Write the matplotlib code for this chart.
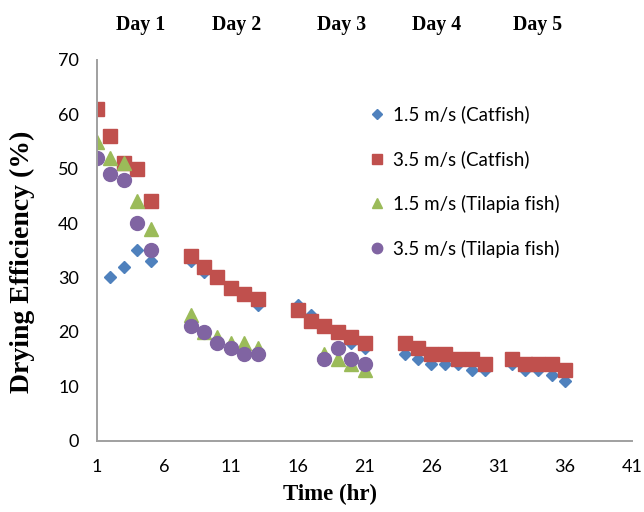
import numpy as np
import matplotlib
matplotlib.use("Agg")
import matplotlib.pyplot as plt

# drying efficiency readings (%), per hour of drying, grouped by day
x_cat15 = [2, 3, 4, 5, 8, 9, 10, 11, 12, 13, 16, 17, 18, 19, 20, 21,
           24, 25, 26, 27, 28, 29, 30, 32, 33, 34, 35, 36]
y_cat15 = [30, 32, 35, 33, 33, 31, 30, 28, 27, 25, 25, 23, 21, 20, 18, 17,
           16, 15, 14, 14, 14, 13, 13, 14, 13, 13, 12, 11]

x_cat35 = [1, 2, 3, 4, 5, 8, 9, 10, 11, 12, 13, 16, 17, 18, 19, 20, 21,
           24, 25, 26, 27, 28, 29, 30, 32, 33, 34, 35, 36]
y_cat35 = [61, 56, 51, 50, 44, 34, 32, 30, 28, 27, 26, 24, 22, 21, 20, 19, 18,
           18, 17, 16, 16, 15, 15, 14, 15, 14, 14, 14, 13]

x_til15 = [1, 2, 3, 4, 5, 8, 9, 10, 11, 12, 13, 18, 19, 20, 21]
y_til15 = [55, 52, 51, 44, 39, 23, 20, 19, 18, 18, 17, 16, 15, 14, 13]

x_til35 = [1, 2, 3, 4, 5, 8, 9, 10, 11, 12, 13, 18, 19, 20, 21]
y_til35 = [52, 49, 48, 40, 35, 21, 20, 18, 17, 16, 16, 15, 17, 15, 14]

labels = ["1.5 m/s (Catfish)", "3.5 m/s (Catfish)",
          "1.5 m/s (Tilapia fish)", "3.5 m/s (Tilapia fish)"]
days = ["Day 1", "Day 2", "Day 3", "Day 4", "Day 5"]
day_x = [141, 237, 342, 437, 538]  # pixel centres across the top

xticks = [1, 6, 11, 16, 21, 26, 31, 36, 41]
yticks = [0, 10, 20, 30, 40, 50, 60, 70]

W, H = 644, 512
fig = plt.figure(figsize=(W / 100, H / 100), dpi=100)
ax = fig.add_axes([97 / W, 1 - 440.5 / H, 535 / W, 380.5 / H])

ax.plot(x_cat15, y_cat15, ls="none", marker="D", ms=6.4, color="#4F81BD",
        mec="#4F81BD", label=labels[0])
ax.plot(x_cat35, y_cat35, ls="none", marker="s", ms=9.4, color="#C0504D",
        mec="#C0504D", label=labels[1])
ax.plot(x_til15, y_til15, ls="none", marker="^", ms=10, color="#9BBB59",
        mec="#9BBB59", label=labels[2])
ax.plot(x_til35, y_til35, ls="none", marker="o", ms=10, color="#8064A2",
        mec="#8064A2", label=labels[3])

ax.set_xlim(1, 41)
ax.set_ylim(0, 70)
ax.set_xticks(xticks)
ax.set_yticks(yticks)
ax.tick_params(length=0, labelsize=13, pad=13)
for lab in ax.get_xticklabels() + ax.get_yticklabels():
    lab.set_family("Lato")
for s in ["top", "right"]:
    ax.spines[s].set_visible(False)
for s in ["left", "bottom"]:
    ax.spines[s].set_color("#A0A0A0")
    ax.spines[s].set_linewidth(1.4)

leg = ax.legend(loc="upper left", bbox_to_anchor=(361 / W, 1 - 98 / H),
                bbox_transform=fig.transFigure, frameon=False,
                prop={"family": "Lato", "size": 13.5}, markerscale=0.75,
                handletextpad=0.4, handlelength=0.9, labelspacing=1.43,
                borderaxespad=0)

serif = "Liberation Serif"
for d, px in zip(days, day_x):
    fig.text(px / W, 1 - 25 / H, d, ha="center", va="center",
             family=serif, weight="bold", size=14.3)
fig.text(330 / W, 1 - 494 / H, "Time (hr)", ha="center", va="center",
         family=serif, weight="bold", size=16.5)
fig.text(22 / W, 1 - 262 / H, "Drying Efficiency (%)", ha="center",
         va="center", rotation=90, family=serif, weight="bold", size=20)

fig.savefig("out.png", dpi=100)
